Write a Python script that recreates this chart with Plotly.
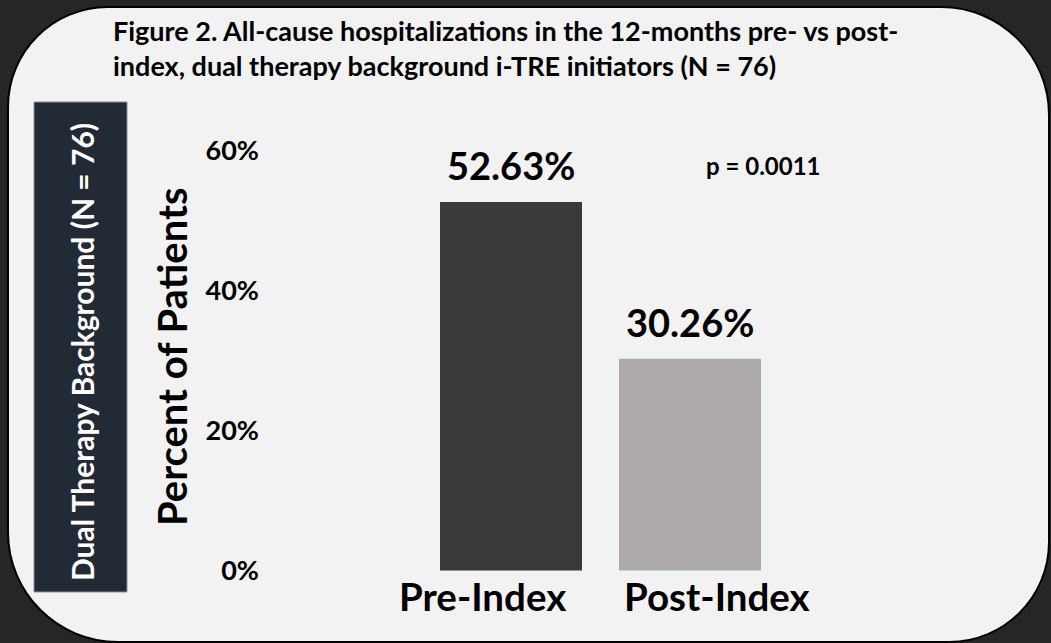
import plotly.graph_objects as go

# ---- data ----
categories = ["Pre-Index", "Post-Index"]
values = [52.63, 30.26]
value_labels = ["52.63%", "30.26%"]
bar_colors = ["#3b3838", "#aeaaaa"]
y_ticks = [0, 20, 40, 60]
y_tick_labels = ["0%", "20%", "40%", "60%"]
title_text = ("Figure 2. All-cause hospitalizations in the 12-months pre- vs post-<br>"
              "index, dual therapy background i-TRE initiators (N = 76)")
side_text = "Dual Therapy Background (N = 76)"
p_text = "p = 0.0011"
y_title = "Percent of Patients"

# ---- layout geometry (pixels) ----
W, H = 1051, 643
L, R, T, B = 260, 51, 100, 53
PW, PH = W - L - R, H - T - B
cat_spacing = 179.0
cat0_px = 511.0
zero_px = 570.5
px_per_unit = 7.0

def xp(px):
    return (px - L) / PW

def yp(py):
    return (H - B - py) / PH

FONT = "Lato"

fig = go.Figure()
fig.add_trace(go.Bar(
    x=categories, y=values,
    marker=dict(color=bar_colors, line=dict(width=0)),
    width=142 / cat_spacing,
    hoverinfo="skip",
))

x_range = [(L - cat0_px) / cat_spacing, (W - R - cat0_px) / cat_spacing]
y_range = [(zero_px - (H - B)) / px_per_unit, (zero_px - T) / px_per_unit]

# rounded panel
def rounded_path(x0, y0, x1, y1, rtl, rtr, rbr, rbl):
    k = 0.5523
    def P(x, y):
        return f"{xp(x):.5f},{yp(y):.5f}"
    d = f"M {P(x0 + rtl, y0)} L {P(x1 - rtr, y0)} "
    d += f"C {P(x1 - rtr + k*rtr, y0)} {P(x1, y0 + rtr - k*rtr)} {P(x1, y0 + rtr)} "
    d += f"L {P(x1, y1 - rbr)} "
    d += f"C {P(x1, y1 - rbr + k*rbr)} {P(x1 - rbr + k*rbr, y1)} {P(x1 - rbr, y1)} "
    d += f"L {P(x0 + rbl, y1)} "
    d += f"C {P(x0 + rbl - k*rbl, y1)} {P(x0, y1 - rbl + k*rbl)} {P(x0, y1 - rbl)} "
    d += f"L {P(x0, y0 + rtl)} "
    d += f"C {P(x0, y0 + rtl - k*rtl)} {P(x0 + rtl - k*rtl, y0)} {P(x0 + rtl, y0)} Z"
    return d

shapes = [
    dict(type="path", xref="paper", yref="paper", layer="below",
         path=rounded_path(8, 7, 1049, 642, 100, 108, 100, 110),
         fillcolor="#f2f2f2", line=dict(color="#000000", width=2)),
    dict(type="rect", xref="paper", yref="paper", layer="below",
         x0=xp(34), x1=xp(127), y0=yp(592), y1=yp(102),
         fillcolor="#222a35", line=dict(color="#8a9099", width=1)),
]

annotations = [
    dict(text=title_text, xref="paper", yref="paper", x=xp(111), y=yp(12),
         xanchor="left", yanchor="top", align="left", showarrow=False,
         font=dict(family=FONT, size=27, color="#000000", weight="bold")),
    dict(text=side_text, xref="paper", yref="paper", x=xp(82), y=yp(352),
         textangle=-90, showarrow=False, xanchor="center", yanchor="middle",
         font=dict(family=FONT, size=30, color="#ffffff", weight="bold")),
    dict(text=y_title, xref="paper", yref="paper", x=xp(172), y=yp(357),
         textangle=-90, showarrow=False, xanchor="center", yanchor="middle",
         font=dict(family=FONT, size=40, color="#000000", weight="bold")),
    dict(text=p_text, xref="paper", yref="paper", x=xp(763), y=yp(165),
         showarrow=False, xanchor="center", yanchor="middle",
         font=dict(family=FONT, size=24, color="#000000", weight="bold")),
]

for c, v, lbl in zip(categories, values, value_labels):
    annotations.append(dict(text=lbl, x=c, y=v, xref="x", yref="y", yshift=37,
                            showarrow=False, xanchor="center", yanchor="middle",
                            font=dict(family=FONT, size=38, color="#000000", weight="bold")))

cat_shift = [-28.5, 27]
for c, s in zip(categories, cat_shift):
    annotations.append(dict(text=c, x=c, y=0, xref="x", yref="y", xshift=s, yshift=-25,
                            showarrow=False, xanchor="center", yanchor="middle",
                            font=dict(family=FONT, size=38.5, color="#000000", weight="bold")))

fig.update_layout(
    width=W, height=H,
    margin=dict(l=L, r=R, t=T, b=B, pad=0),
    paper_bgcolor="#262626",
    plot_bgcolor="rgba(0,0,0,0)",
    showlegend=False,
    shapes=shapes,
    annotations=annotations,
    xaxis=dict(range=x_range, showticklabels=False, showgrid=False, zeroline=False,
               showline=False, ticks=""),
    yaxis=dict(range=y_range, tickmode="array", tickvals=y_ticks, ticktext=y_tick_labels,
               showgrid=False, zeroline=False, showline=False, ticks="",
               tickfont=dict(family=FONT, size=27, color="#000000", weight="bold")),
)

fig.write_html("out.html")
